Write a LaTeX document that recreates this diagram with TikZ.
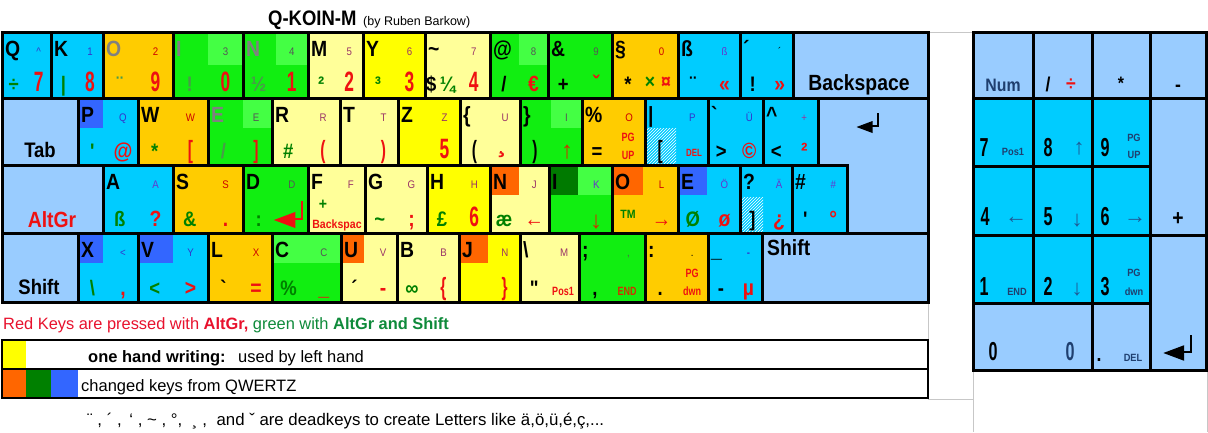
\documentclass[tikz,border=0pt]{standalone}
\usepackage{fontspec}
\setmainfont{Liberation Sans}
\newfontfamily\kf{Liberation Sans}[FakeStretch=0.88]
\newfontfamily\kfs{Liberation Sans}[FakeStretch=0.75]
\newfontfamily\kfn{Liberation Sans}[FakeStretch=0.62]
\usetikzlibrary{patterns}
\pgfdeclarelayer{bg}\pgfdeclarelayer{mid}\pgfsetlayers{bg,mid,main}
\definecolor{kcyan}{HTML}{00CCFF}
\definecolor{korange}{HTML}{FFCC00}
\definecolor{kgreen}{HTML}{11EE11}
\definecolor{kgreenlt}{HTML}{44FF44}
\definecolor{klyel}{HTML}{FFFF99}
\definecolor{kyel}{HTML}{FFFF00}
\definecolor{klblue}{HTML}{99CCFF}
\definecolor{qblue}{HTML}{3366FF}
\definecolor{qorange}{HTML}{FF6600}
\definecolor{qdkgreen}{HTML}{007A00}
\definecolor{tpur}{HTML}{993366}
\definecolor{tblu}{HTML}{3333CC}
\definecolor{tviol}{HTML}{6633CC}
\definecolor{tmag}{HTML}{993399}
\definecolor{tred}{HTML}{EE1111}
\definecolor{tdred}{HTML}{CC0000}
\definecolor{tbrown}{HTML}{CC3300}
\definecolor{tgrn}{HTML}{008000}
\definecolor{tdim}{HTML}{4A9A4A}
\definecolor{tgray}{HTML}{808080}
\definecolor{tdgray}{HTML}{555555}
\definecolor{tnavy}{HTML}{1F3F6F}
\definecolor{tarrow}{HTML}{1F5A96}
\definecolor{legred}{HTML}{E8112D}
\definecolor{leggrn}{HTML}{0E8A3A}
\newcommand\colK{\color{black}}
\newcommand\colB{\color{tblu}}
\newcommand\colV{\color{tviol}}
\newcommand\colR{\color{tdred}}
\newcommand\colS{\color{tdgray}}
\newcommand\colY{\color{tgray}}
\newcommand\colD{\color{tdim}}
\newcommand\colP{\color{tmag}}
\newcommand\BD[1]{{\kfn\bfseries\fontsize{28}{28}\selectfont #1}}
\newcommand\BM[1]{{\kfn\bfseries\fontsize{25}{25}\selectfont #1}}
\tikzset{
 kb/.style={draw=black, line width=3pt},
 lb/.style={draw=black, line width=2.6pt},
 tl/.style={anchor=base west, inner sep=0pt, font=\kf\bfseries\fontsize{22}{22}\selectfont},
 tr/.style={anchor=base, inner sep=0pt, text=tpur, font=\kf\fontsize{11}{11}\selectfont},
 bl/.style={anchor=base, inner sep=0pt, text=tgrn, font=\kf\bfseries\fontsize{21}{21}\selectfont},
 br/.style={anchor=base, inner sep=0pt, text=tred, font=\kf\bfseries\fontsize{22}{22}\selectfont},
 sm/.style={anchor=base, inner sep=0pt, text=tred, font=\kfs\bfseries\fontsize{12}{12}\selectfont},
 big/.style={anchor=base, inner sep=0pt, font=\kf\bfseries\fontsize{22}{22}\selectfont},
 npd/.style={anchor=base, inner sep=0pt, font=\kfn\bfseries\fontsize{26}{26}\selectfont},
 nps/.style={anchor=base, inner sep=0pt, text=tnavy, font=\kf\bfseries\fontsize{10.5}{10.5}\selectfont},
 arr/.style={inner sep=0pt, text=tarrow, font=\fontsize{22}{22}\selectfont},
 gline/.style={draw=black!22, line width=0.8pt},
 txt/.style={anchor=base west, inner sep=0pt},
 enterpic/.pic={\fill (-10.5,0) -- (5.5,-6) -- (5.5,6) -- cycle;
   \draw[line width=2pt] (5,-1) -- (10.5,-1) -- (10.5,-14);}
}
\newcommand\kr[5]{%
 \begin{pgfonlayer}{bg}\fill[#5] (#1,#3) rectangle (#2,#4);\end{pgfonlayer}
 \draw[kb] (#1,#3) rectangle (#2,#4);}
\newcommand\kk[9]{%
 \kr{#1}{#2}{#3}{#4}{#5}%
 \pgfmathsetmacro\kXl{#1+0.24*(#2-#1)}%
 \pgfmathsetmacro\kXr{#1+0.75*(#2-#1)}%
 \pgfmathsetmacro\kYt{#3+24}%
 \pgfmathsetmacro\kYr{#3+23}%
 \pgfmathsetmacro\kYb{#4-7}%
 \node[tl] (tl#1r#3) at (#1+3,\kYt) {#6};
 \node[tr] (tr#1r#3) at (\kXr,\kYr) {#7};
 \node[bl] (bl#1r#3) at (\kXl,\kYb) {#8};
 \node[br] (br#1r#3) at (\kXr,\kYb) {#9};}
\newcommand\qd[5]{\begin{pgfonlayer}{mid}\fill[#5] (#1,#2) rectangle (#3,#4);\end{pgfonlayer}}
\newcommand\hatch[4]{\begin{pgfonlayer}{mid}\fill[pattern=north east lines, pattern color=white] (#1,#2) rectangle (#3,#4);\end{pgfonlayer}}
\begin{document}
\begin{tikzpicture}[x=1pt,y=-1pt]
\useasboundingbox (0,0) rectangle (1208,432);
\begin{pgfonlayer}{bg}\fill[white] (0,0) rectangle (1208,432);\end{pgfonlayer}
% title
\node[txt, font=\kf\bfseries\fontsize{21}{21}\selectfont] (title) at (268,25) {Q-KOIN-M};
\node[txt, font=\fontsize{12.5}{12.5}\selectfont] (author) at (363,25) {(by Ruben Barkow)};
% grid lines
\draw[gline] (928,32) -- (973,32);
\draw[gline] (928,302) -- (928,399) -- (973,399);
\draw[gline] (973,370) -- (973,432);
\draw[gline] (1207,370) -- (1207,432);
% ---------- row 1
\kk{2}{51}{32}{98}{kcyan}{Q}{\colB\symbol{"5E}}{÷}{\BD{7}}
\kk{51}{103}{32}{98}{kcyan}{K}{\colB 1}{|}{\BD{8}}
\kk{103}{173}{32}{98}{korange}{\colY O}{\colR 2}{\colD ¨}{\BD{9}}
\qd{208}{32}{243}{65}{kgreenlt}
\kk{173}{243}{32}{98}{kgreen}{\colY I}{\colS 3}{\colD !}{\BD{0}}
\qd{276}{32}{308}{65}{kgreenlt}
\kk{243}{308}{32}{98}{kgreen}{\colY N}{\colS 4}{\colD ½}{\BD{1}}
\kk{308}{363}{32}{98}{klyel}{M}{5}{²}{\BD{2}}
\kk{363}{425}{32}{98}{kyel}{Y}{6}{³}{\BD{3}}
\kk{425}{490}{32}{98}{klyel}{\symbol{"7E}}{7}{{\colK\$}\,¼}{\BD{4}}
\qd{519}{32}{548}{65}{kgreenlt}
\kk{490}{548}{32}{98}{kgreen}{@}{\colS 8}{\colK /}{€}
\kk{548}{612}{32}{98}{kgreen}{\&}{\colS 9}{\colK +}{ˇ}
\kk{612}{678}{32}{98}{korange}{§}{\colR 0}{\colK *}{}
\node[bl, font=\kf\bfseries\fontsize{20}{20}\selectfont] (times) at (650,88) {×};
\node[br, font=\kf\bfseries\fontsize{20}{20}\selectfont] (curr) at (666,88) {¤};
\kk{678}{740}{32}{98}{kcyan}{ß}{\colV ß}{\colK ¨}{«}
\kk{740}{793}{32}{98}{kcyan}{´}{\colK ´}{\colK !}{»}
\kr{793}{928}{32}{98}{klblue}
\node[big] (bksp) at (859,90) {Backspace};
% ---------- row 2
\kr{2}{78}{98}{165}{klblue}
\node[big, font=\kf\bfseries\fontsize{21}{21}\selectfont] (tab) at (40,157) {Tab};
\qd{78}{98}{103}{128}{qblue}
\kk{78}{138}{98}{165}{kcyan}{P}{\colB Q}{\symbol{"27}}{@}
\kk{138}{208}{98}{165}{korange}{W}{\colR W}{*}{\BM{[}}
\qd{243}{98}{272}{128}{kgreenlt}
\kk{208}{272}{98}{165}{kgreen}{\colY E}{\colS E}{\colD /}{\BM{]}}
\kk{272}{340}{98}{165}{klyel}{R}{R}{\#}{\BM{(}}
\kk{340}{398}{98}{165}{klyel}{T}{T}{}{\BM{)}}
\kk{398}{460}{98}{165}{kyel}{Z}{Z}{}{\BD{5}}
\kk{460}{520}{98}{165}{klyel}{\{}{U}{\colK\BM{(}}{}
\node[br, font=\kf\bfseries\fontsize{30}{30}\selectfont] (cedil) at (502,151) {¸};
\qd{551}{98}{582}{128}{kgreenlt}
\kk{520}{582}{98}{165}{kgreen}{\}}{\colS I}{\colK\BM{)}}{}
\node[br, text=tbrown, font=\fontsize{24}{24}\selectfont] (up1) at (567,158) {↑};
\kk{582}{645}{98}{165}{korange}{\%}{\colR O}{\colK =}{}
\node[sm] (pgu1) at (628,141) {PG};
\node[sm] (pgu2) at (628,159) {UP};
\hatch{646}{128}{676}{164}
\kk{645}{708}{98}{165}{kcyan}{|}{\colB P}{\colK\BM{[}}{}
\node[sm, font=\kfs\bfseries\fontsize{10.5}{10.5}\selectfont] (del1) at (694,156) {DEL};
\kk{708}{763}{98}{165}{kcyan}{\symbol{"60}}{\colB Ü}{\colK >}{©}
\kk{763}{818}{98}{165}{kcyan}{\symbol{"5E}}{\colP +}{\colK <}{²}
\begin{pgfonlayer}{bg}\fill[klblue] (818,98) -- (928,98) -- (928,233) -- (847,233) -- (847,165) -- (818,165) -- cycle;\end{pgfonlayer}
\draw[kb] (818,98) -- (928,98) -- (928,233) -- (847,233) -- (847,165) -- (818,165) -- cycle;
\pic (ent) at (867,127) {enterpic};
% ---------- row 3
\kr{2}{103}{165}{233}{klblue}
\node[big, text=tred] (altgr) at (52,227) {AltGr};
\kk{103}{173}{165}{233}{kcyan}{A}{\colV A}{ß}{?}
\kk{173}{243}{165}{233}{korange}{S}{\colR S}{\&}{.}
\kk{243}{308}{165}{233}{kgreen}{D}{\colS D}{:}{}
\pic[tred, scale=1.35] (entd) at (288,220) {enterpic};
\kk{308}{365}{165}{233}{klyel}{F}{F}{}{}
\node[bl, font=\kf\bfseries\fontsize{16}{16}\selectfont] (plusf) at (323,209) {+};
\node[sm, font=\kf\bfseries\fontsize{12}{12}\selectfont] (bkspc) at (337,228) {Backspac};
\kk{365}{427}{165}{233}{klyel}{G}{G}{\symbol{"7E}}{;}
\kk{427}{490}{165}{233}{kyel}{H}{H}{£}{\BD{6}}
\qd{490}{165}{519}{195}{qorange}
\kk{490}{549}{165}{233}{klyel}{N}{J}{æ}{\fontseries{m}\selectfont←}
\qd{549}{165}{578}{195}{qdkgreen}
\qd{578}{165}{612}{195}{kgreenlt}
\kk{549}{612}{165}{233}{kgreen}{I}{\colV K}{}{}
\node[br, text=tbrown, font=\fontsize{24}{24}\selectfont] (dn1) at (596,228) {↓};
\qd{612}{165}{643}{195}{qorange}
\kk{612}{678}{165}{233}{korange}{O}{\colR L}{}{\fontseries{m}\selectfont→}
\node[bl, font=\kf\bfseries\fontsize{12}{12}\selectfont] (tm) at (628,218) {TM};
\qd{678}{165}{707}{195}{qblue}
\kk{678}{740}{165}{233}{kcyan}{E}{\colV Ö}{Ø}{ø}
\hatch{741}{197}{763}{232}
\kk{740}{792}{165}{233}{kcyan}{?}{\colV Ä}{\colK ]}{¿}
\kk{792}{847}{165}{233}{kcyan}{\#}{\colV\#}{\colK\symbol{"27}}{°}
% ---------- row 4
\kr{2}{78}{233}{302}{klblue}
\node[big, font=\kf\bfseries\fontsize{21}{21}\selectfont] (shl) at (39,294) {Shift};
\qd{78}{233}{103}{263}{qblue}
\kk{78}{138}{233}{302}{kcyan}{X}{\colB <}{\symbol{"5C}}{,}
\qd{138}{233}{173}{263}{qblue}
\kk{138}{208}{233}{302}{kcyan}{V}{\colB Y}{<}{>}
\kk{208}{272}{233}{302}{korange}{L}{\colR X}{\colK\symbol{"60}}{=}
\qd{272}{233}{341}{263}{kgreenlt}
\kk{272}{341}{233}{302}{kgreen}{C}{\colS C}{\%}{\_}
\qd{341}{233}{364}{263}{qorange}
\kk{341}{397}{233}{302}{klyel}{U}{V}{\colK ´}{-}
\kk{397}{459}{233}{302}{klyel}{B}{B}{∞}{\BM{\{}}
\qd{459}{233}{488}{263}{qorange}
\kk{459}{520}{233}{302}{kyel}{J}{N}{}{\BM{\}}}
\kk{520}{579}{233}{302}{klyel}{\symbol{"5C}}{M}{\colK\symbol{"22}}{}
\node[sm] (pos1) at (563,295) {Pos1};
\kk{579}{645}{233}{302}{kgreen}{;}{\colS ,}{\colK ,}{}
\node[sm, text=tbrown] (end1) at (627,295) {END};
\kk{645}{708}{233}{302}{korange}{:}{\colK .}{\colK .}{}
\node[sm] (pgd1) at (692,277) {PG};
\node[sm] (pgd2) at (692,295) {dwn};
\kk{708}{762}{233}{302}{kcyan}{\_}{\colB\bfseries -}{\colK -}{µ}
\kr{762}{928}{233}{302}{klblue}
\node[big, anchor=base west] (shr) at (767,255) {Shift};
% ---------- legend
\node[txt, font=\fontsize{16.4}{16.4}\selectfont] (legend) at (3,329) {\color{legred}Red Keys are pressed with \textbf{AltGr,} \color{leggrn}green with \textbf{AltGr and Shift}};
\fill[kyel] (2,340) rectangle (26,369);
\fill[qorange] (2,369) rectangle (26,398);
\fill[tgrn] (26,369) rectangle (51,398);
\fill[qblue] (51,369) rectangle (78,398);
\draw[lb] (2,340) rectangle (928,369);
\draw[lb] (2,369) rectangle (928,398);
\node[txt, font=\bfseries\fontsize{16.5}{16.5}\selectfont] (ohw) at (88,362) {one hand writing:};
\node[txt, font=\fontsize{16.5}{16.5}\selectfont] (ulh) at (238,362) {used by left hand};
\node[txt, font=\fontsize{16.5}{16.5}\selectfont] (ckq) at (81,391) {changed keys from QWERTZ};
\node[txt, font=\fontsize{16.8}{16.8}\selectfont] (dead) at (87,425) {¨ , ´ ,\hspace{3pt} \symbol{"60} , \symbol{"7E} , °,\hspace{5pt} ¸ ,\hspace{5pt} and ˇ are deadkeys to create Letters like ä,ö,ü,é,ç,...};
% ---------- numpad
\kr{973}{1033}{32}{98}{klblue}
\kr{1033}{1092}{32}{98}{klblue}
\kr{1092}{1150}{32}{98}{klblue}
\kr{1150}{1206}{32}{98}{klblue}
\kr{973}{1033}{98}{166}{kcyan}
\kr{1033}{1092}{98}{166}{kcyan}
\kr{1092}{1150}{98}{166}{kcyan}
\kr{1150}{1206}{98}{235}{klblue}
\kr{973}{1033}{166}{235}{kcyan}
\kr{1033}{1092}{166}{235}{kcyan}
\kr{1092}{1150}{166}{235}{kcyan}
\kr{973}{1033}{235}{303}{kcyan}
\kr{1033}{1092}{235}{303}{kcyan}
\kr{1092}{1150}{235}{303}{kcyan}
\kr{1150}{1206}{235}{370}{klblue}
\kr{973}{1092}{303}{370}{klblue}
\kr{1092}{1150}{303}{370}{klblue}
\node[big, text=tnavy, font=\kf\bfseries\fontsize{18}{18}\selectfont] (num) at (1003,91) {Num};
\node[big, font=\kf\bfseries\fontsize{20}{20}\selectfont] (slash) at (1048,91) {/};
\node[big, text=tred, font=\kf\bfseries\fontsize{20}{20}\selectfont] (ndiv) at (1071,90) {÷};
\node[big, font=\kf\bfseries\fontsize{18}{18}\selectfont] (ast) at (1121,89) {*};
\node[big, font=\kf\bfseries\fontsize{20}{20}\selectfont] (minus) at (1178,91) {-};
\node[npd] (n7) at (984,156) {7};
\node[nps] (n7s) at (1013,155) {Pos1};
\node[npd] (n8) at (1048,156) {8};
\node[arr] (n8s) at (1079,149) {↑};
\node[npd] (n9) at (1105,156) {9};
\node[nps] (n9a) at (1134,141) {PG};
\node[nps] (n9b) at (1134,158) {UP};
\node[big, font=\kf\bfseries\fontsize{22}{22}\selectfont] (plus) at (1178,225) {+};
\node[npd] (n4) at (985,225) {4};
\node[arr] (n4s) at (1016,220) {←};
\node[npd] (n5) at (1048,225) {5};
\node[arr] (n5s) at (1077,221) {↓};
\node[npd] (n6) at (1105,225) {6};
\node[arr] (n6s) at (1135,220) {→};
\node[npd] (n1) at (984,295) {1};
\node[nps] (n1s) at (1017,295) {END};
\node[npd] (n2) at (1048,295) {2};
\node[arr] (n2s) at (1077,290) {↓};
\node[npd] (n3) at (1105,295) {3};
\node[nps] (n3a) at (1134,276) {PG};
\node[nps] (n3b) at (1134,295) {dwn};
\node[npd] (n0) at (993,360) {0};
\node[npd, text=tnavy] (n0b) at (1070,360) {0};
\node[big, font=\kf\bfseries\fontsize{20}{20}\selectfont] (dot) at (1099,361) {.};
\node[nps] (ndel) at (1133,361) {DEL};
\pic[scale=1.3] (nent) at (1177,353) {enterpic};
\end{tikzpicture}
\end{document}
